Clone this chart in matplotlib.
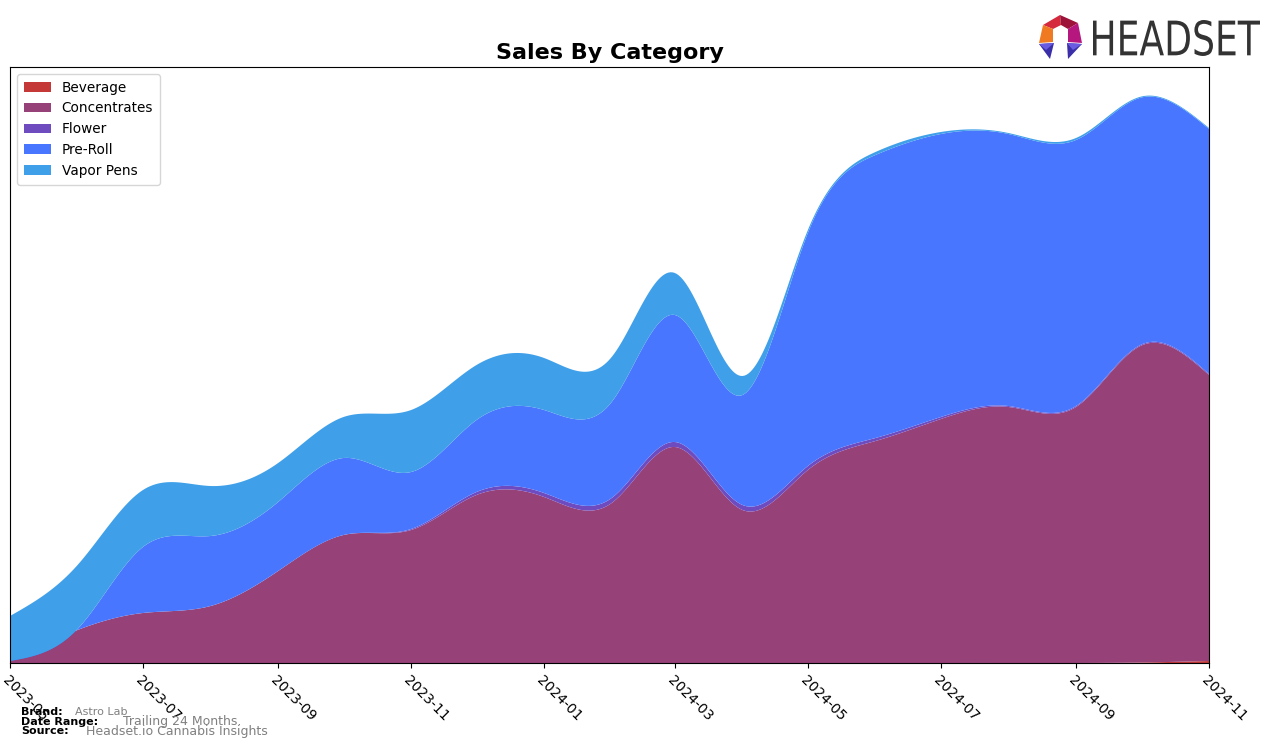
import numpy as np
import pandas as pd
import matplotlib
matplotlib.use("Agg")
import matplotlib.pyplot as plt
import matplotlib.dates as mdates
from matplotlib.patches import Polygon, PathPatch
from matplotlib.textpath import TextPath
from matplotlib.font_manager import FontProperties
from matplotlib.transforms import Affine2D

# monthly sales by category (relative units)
months = pd.date_range("2023-05-01", "2024-11-01", freq="MS")
categories = ["Beverage", "Concentrates", "Flower", "Pre-Roll", "Vapor Pens"]
beverage = [0, 0, 0, 0, 0, 0, 0, 0, 0, 0, 0, 0, 0, 0, 0, 0, 0, 0.5, 2]
concentrates = [2, 33, 50, 57, 92, 128, 133, 168, 166, 160, 216, 153, 193, 222, 244, 256, 256, 317, 286]
flower = [0, 0, 0, 0, 0, 0, 1, 3, 4, 5, 5, 5, 4, 3, 2, 1, 1, 1, 1]
pre_roll = [0, 1, 66, 70, 69, 77, 57, 72, 83, 96, 127, 110, 233, 283, 283, 272, 266, 247, 245]
vapor_pens = [45, 64, 57, 50, 39, 41, 62, 55, 52, 45, 42, 19, 3, 3, 2, 1, 2, 1, 1]
colors = ["#c43838", "#964178", "#6f4bc0", "#4876ff", "#3fa0e9"]


def spline(xs, ys, xn):
    # natural cubic spline, only used to draw smooth edges
    xs = np.asarray(xs, float)
    ys = np.asarray(ys, float)
    n = len(xs)
    h = np.diff(xs)
    A = np.zeros((n, n))
    b = np.zeros(n)
    A[0, 0] = A[-1, -1] = 1
    for i in range(1, n - 1):
        A[i, i - 1] = h[i - 1]
        A[i, i] = 2 * (h[i - 1] + h[i])
        A[i, i + 1] = h[i]
        b[i] = 3 * ((ys[i + 1] - ys[i]) / h[i] - (ys[i] - ys[i - 1]) / h[i - 1])
    c = np.linalg.solve(A, b)
    idx = np.clip(np.searchsorted(xs, xn) - 1, 0, n - 2)
    dx = xn - xs[idx]
    bb = (ys[idx + 1] - ys[idx]) / h[idx] - h[idx] * (2 * c[idx] + c[idx + 1]) / 3
    d = (c[idx + 1] - c[idx]) / (3 * h[idx])
    return ys[idx] + bb * dx + c[idx] * dx ** 2 + d * dx ** 3


x = mdates.date2num(months.to_pydatetime())
xs = np.linspace(x[0], x[-1], 600)
series = [beverage, concentrates, flower, pre_roll, vapor_pens]
smooth = [spline(x, s, xs) for s in series]

fig = plt.figure(figsize=(12.76, 7.48), dpi=100)
ax = fig.add_axes([10 / 1276, 1 - 663 / 748, 1199 / 1276, 596 / 748])

ax.stackplot(xs, *smooth, labels=categories, colors=colors)

ax.set_xlim(x[0], x[-1])
ax.set_ylim(0, 596)
ax.set_yticks([])
ax.set_xticks(x[::2])
ax.xaxis.set_major_formatter(mdates.DateFormatter("%Y-%m"))
plt.setp(ax.get_xticklabels(), rotation=-45, ha="left", rotation_mode="anchor", fontsize=10)
ax.set_title("Sales By Category", fontsize=16, fontweight="bold", pad=6)
ax.legend(loc="upper left", fontsize=9.8, handlelength=2, borderpad=0.5)

# footer
fig.text(21 / 1276, 1 - 712 / 748, "Brand:", fontsize=8, fontweight="bold", va="center")
fig.text(75 / 1276, 1 - 712 / 748, "Astro Lab", fontsize=8, color="gray", va="center")
fig.text(21 / 1276, 1 - 722 / 748, "Date Range:", fontsize=8, fontweight="bold", va="center")
fig.text(123 / 1276, 1 - 722 / 748, "Trailing 24 Months.", fontsize=9, color="gray", va="center")
fig.text(21 / 1276, 1 - 731 / 748, "Source:", fontsize=8, fontweight="bold", va="center")
fig.text(86 / 1276, 1 - 731 / 748, "Headset.io Cannabis Insights", fontsize=9, color="gray", va="center")

# logo, drawn in pixel coordinates
lax = fig.add_axes([0, 0, 1, 1], zorder=5)
lax.set_xlim(0, 1276)
lax.set_ylim(748, 0)
lax.axis("off")
logo_parts = [
    ([(1043, 25), (1060, 15), (1061, 25), (1053, 29)], "#d42a3c"),
    ([(1060, 15), (1078, 23), (1068, 29), (1061, 25)], "#9c1238"),
    ([(1043, 25), (1053, 29), (1053, 42), (1039, 43)], "#f07a22"),
    ([(1078, 23), (1082, 43), (1068, 42), (1068, 29)], "#b5177f"),
    ([(1039, 44), (1054, 43), (1050, 59)], "#3a2fa8"),
    ([(1039, 44), (1054, 43), (1046, 50)], "#6a5ce0"),
    ([(1067, 43), (1082, 44), (1068, 59)], "#3a2fa8"),
    ([(1067, 43), (1082, 44), (1073, 50)], "#6a5ce0"),
]
for pts, c in logo_parts:
    lax.add_patch(Polygon(pts, closed=True, color=c, lw=0))

tp = TextPath((0, 0), "HEADSET", size=10, prop=FontProperties(family="DejaVu Sans"))
ext = tp.get_extents()
sx = (1260 - 1093) / ext.width
sy = (56 - 20) / ext.height
tr = Affine2D().translate(-ext.x0, -ext.y0).scale(sx, -sy).translate(1093, 56)
lax.add_patch(PathPatch(tr.transform_path(tp), color="#333333", lw=0))

fig.savefig("out.png", dpi=100)
